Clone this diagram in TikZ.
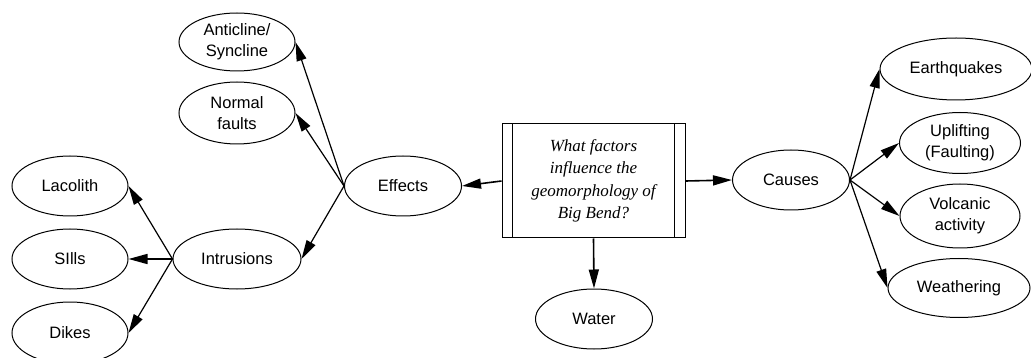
\documentclass[tikz,border=0pt]{standalone}
\usepackage{fontspec}
\setmainfont{Liberation Serif}
\setsansfont{Liberation Sans}
\usetikzlibrary{positioning, arrows.meta, shapes.geometric}

\begin{document}
\begin{tikzpicture}[
    x=1pt, y=-1pt,
    topic/.style={draw, ellipse, line width=1pt, inner sep=0pt, align=center,
      minimum width=117pt, minimum height=60pt,
      font=\sffamily\fontsize{16.5}{20.7}\selectfont},
    question/.style={draw, rectangle, line width=1pt, align=center,
      minimum width=183pt, minimum height=114pt,
      font=\itshape\fontsize{17}{22.4}\selectfont},
    link/.style={-{Triangle[length=19pt, width=10pt]}, line width=1.2pt}
  ]
    \useasboundingbox (0,0) rectangle (1031,358);

    \node[question] (q) at (593.5,181) {What factors\\influence the\\geomorphology of\\Big Bend?};
    \draw[line width=1pt] ([xshift=11pt]q.north west) -- ([xshift=11pt]q.south west);
    \draw[line width=1pt] ([xshift=-11pt]q.north east) -- ([xshift=-11pt]q.south east);

    \node[topic] (effects)    at (403,186) {Effects};
    \node[topic] (causes)     at (791,180) {Causes};
    \node[topic] (water)      at (594,319) {Water};

    \node[topic, minimum width=116pt, minimum height=58pt] (anticline) at (237,42)  {Anticline/\\Syncline};
    \node[topic, minimum width=116pt, minimum height=62pt] (normal)    at (237,113) {Normal\\faults};
    \node[topic, minimum width=128pt] (intrusions) at (237,259) {Intrusions};

    \node[topic, minimum width=116pt] (lacolith) at (70,186) {Lacolith};
    \node[topic, minimum width=116pt] (sills)    at (70,259) {SIlls};
    \node[topic, minimum width=116pt, minimum height=62pt] (dikes) at (70,333) {Dikes};

    \node[topic, minimum width=152pt, minimum height=62pt] (quakes)    at (956,69)  {Earthquakes};
    \node[topic, minimum width=121pt, minimum height=61pt] (uplift)    at (960,143) {Uplifting\\(Faulting)};
    \node[topic, minimum width=120pt, minimum height=64pt] (volcanic)  at (960,216) {Volcanic\\activity};
    \node[topic, minimum width=142pt, minimum height=59pt] (weather)   at (959,288) {Weathering};

    \draw[link, line width=1.6pt] (q.west) -- (effects.east);
    \draw[link, line width=1.6pt] (q.east) -- (causes.west);
    \draw[link, line width=1.6pt] (q.south) -- (water.north);

    \draw[link] (effects.west) -- (anticline.east);
    \draw[link] (effects.west) -- (normal.east);
    \draw[link] (effects.west) -- (intrusions.east);

    \draw[link] (intrusions.west) -- (lacolith.east);
    \draw[link, line width=1.6pt] (intrusions.west) -- (sills.east);
    \draw[link] (intrusions.west) -- (dikes.east);

    \draw[link] (causes.east) -- (quakes.west);
    \draw[link] (causes.east) -- (uplift.west);
    \draw[link] (causes.east) -- (volcanic.west);
    \draw[link] (causes.east) -- (weather.west);
  \end{tikzpicture}
\end{document}
